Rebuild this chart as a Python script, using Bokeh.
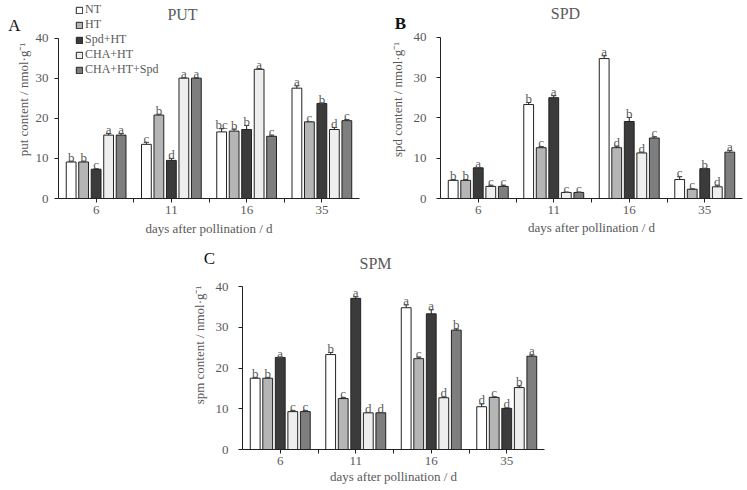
from bokeh.plotting import figure
from bokeh.models import Range1d, FixedTicker, Label, Legend, LegendItem, Whisker, TeeHead, ColumnDataSource, Spacer
from bokeh.layouts import column, row
from bokeh.embed import file_html
from bokeh.resources import INLINE
from bokeh.core.properties import value

days = ["6", "11", "16", "35"]
treatments = ["NT", "HT", "Spd+HT", "CHA+HT", "CHA+HT+Spd"]
colors = ["#ffffff", "#b5b5b5", "#3b3b3b", "#eeeeee", "#7e7e7e"]

# PUT (per treatment, across days 6, 11, 16, 35)
put_nt = [9.1, 13.5, 16.6, 27.5]
put_ht = [9.1, 20.8, 16.8, 19.1]
put_spd = [7.3, 9.5, 17.2, 23.7]
put_cha = [15.8, 30.0, 32.2, 17.2]
put_chaspd = [15.8, 30.0, 15.5, 19.4]
put_err = [[0.2, 0.5, 0.8, 0.6], [0.2, 0.2, 0.5, 0.1], [0.1, 0.5, 1.0, 0.1], [0.4, 0.1, 0.2, 0.5], [0.4, 0.1, 0.3, 0.3]]
put_let = [["b", "c", "bc", "a"], ["b", "b", "b", "c"], ["c", "d", "b", "b"], ["a", "a", "a", "d"], ["a", "a", "c", "c"]]

# SPD
spd_nt = [4.5, 23.3, 34.7, 4.7]
spd_ht = [4.5, 12.6, 12.6, 2.3]
spd_spd = [7.6, 25.0, 19.1, 7.4]
spd_cha = [3.0, 1.5, 11.3, 2.9]
spd_chaspd = [3.0, 1.5, 15.0, 11.5]
spd_err = [[0.2, 0.5, 0.7, 0.7], [0.2, 0.3, 0.4, 0.1], [0.1, 0.5, 1.0, 0.1], [0.3, 0.1, 0.2, 0.4], [0.3, 0.1, 0.3, 0.4]]
spd_let = [["b", "b", "a", "c"], ["b", "c", "d", "c"], ["a", "a", "b", "b"], ["c", "c", "d", "d"], ["c", "c", "c", "a"]]

# SPM
spm_nt = [17.5, 23.3, 34.8, 10.5]
spm_ht = [17.5, 12.5, 22.3, 12.8]
spm_spd = [22.6, 37.1, 33.3, 10.1]
spm_cha = [9.3, 9.0, 12.7, 15.2]
spm_chaspd = [9.3, 9.0, 29.3, 22.9]
spm_err = [[0.2, 0.5, 0.7, 0.7], [0.2, 0.3, 0.4, 0.1], [0.1, 0.4, 1.0, 0.1], [0.3, 0.1, 0.2, 0.4], [0.3, 0.1, 0.3, 0.3]]
spm_let = [["b", "b", "a", "d"], ["b", "c", "c", "c"], ["a", "a", "a", "d"], ["c", "d", "d", "b"], ["c", "d", "b", "a"]]

yticks = [0, 10, 20, 30, 40]

FONT = "Liberation Serif"
GRAY = "#595959"
STEP = 0.166
BW = 0.13


def panel(series, errs, lets, ylabel, title, letter, letter_bold,
          width, height, bl, br, bb, ymax, title_pos, letter_pos,
          xlab_standoff, tick_standoff, ylab_standoff, legend_pos=None):
    day_pos = list(range(1, len(days) + 1))
    p = figure(width=width, height=height, x_range=Range1d(0.5, len(days) + 0.5),
               y_range=Range1d(0, ymax), output_backend="svg", toolbar_location=None,
               min_border_left=bl, min_border_right=br, min_border_top=0, min_border_bottom=bb)
    p.outline_line_color = None
    p.xgrid.visible = False
    p.ygrid.visible = False
    items = []
    for k, (vals, err, let) in enumerate(zip(series, errs, lets)):
        off = (k - 2) * STEP
        xs = [d + off for d in day_pos]
        src = ColumnDataSource(dict(x=xs, top=vals, up=[v + e for v, e in zip(vals, err)],
                                    lo=[v - e for v, e in zip(vals, err)], let=let))
        r = p.vbar(x="x", top="top", width=BW, source=src, fill_color=colors[k],
                   line_color="#222222", line_width=1)
        items.append(LegendItem(label=treatments[k], renderers=[r]))
        p.add_layout(Whisker(source=src, base="x", upper="up", lower="lo", line_color="#222222",
                             line_width=1,
                             upper_head=TeeHead(size=5, line_color="#222222", line_width=1),
                             lower_head=TeeHead(size=5, line_color="#222222", line_width=1)))
        p.text(x="x", y="up", text="let", source=src, text_align="center",
               text_baseline="alphabetic", y_offset=-4, text_font=value(FONT),
               text_font_size="13px", text_color=GRAY)
    xa = p.xaxis[0]
    xa.ticker = FixedTicker(ticks=day_pos, minor_ticks=[d + 0.5 for d in day_pos[:-1]])
    xa.major_label_overrides = {d: lab for d, lab in zip(day_pos, days)}
    xa.major_tick_out = 4
    xa.major_tick_in = 0
    xa.minor_tick_out = 4
    xa.minor_tick_in = 0
    xa.axis_line_color = "#222222"
    xa.major_tick_line_color = "#222222"
    xa.minor_tick_line_color = "#222222"
    xa.major_label_text_font = FONT
    xa.major_label_text_font_size = "13px"
    xa.major_label_text_color = GRAY
    xa.major_label_standoff = 3
    xa.axis_label = "days after pollination / d"
    xa.axis_label_text_font = FONT
    xa.axis_label_text_font_size = "13px"
    xa.axis_label_text_font_style = "normal"
    xa.axis_label_text_color = GRAY
    xa.axis_label_standoff = xlab_standoff

    ya = p.yaxis[0]
    ya.ticker = FixedTicker(ticks=yticks, minor_ticks=[])
    ya.bounds = (yticks[0], yticks[-1])
    ya.major_tick_out = 4
    ya.major_tick_in = 0
    ya.minor_tick_line_color = None
    ya.axis_line_color = "#222222"
    ya.major_tick_line_color = "#222222"
    ya.major_label_text_font = FONT
    ya.major_label_text_font_size = "13px"
    ya.major_label_text_color = GRAY
    ya.major_label_standoff = tick_standoff
    ya.axis_label = ylabel
    ya.axis_label_text_font = FONT
    ya.axis_label_text_font_size = "13px"
    ya.axis_label_text_font_style = "normal"
    ya.axis_label_text_color = GRAY
    ya.axis_label_standoff = ylab_standoff

    p.add_layout(Label(x=title_pos[0], y=title_pos[1], x_units="screen", y_units="screen",
                       text=title, text_font=FONT, text_font_size="16px", text_color=GRAY,
                       text_align="center", text_baseline="middle"))
    p.add_layout(Label(x=letter_pos[0], y=letter_pos[1], x_units="screen", y_units="screen",
                       text=letter, text_font=FONT, text_font_size="17px", text_color="#111111",
                       text_font_style="bold" if letter_bold else "normal",
                       text_align="center", text_baseline="middle"), "left")
    if legend_pos is not None:
        lg = Legend(items=items, location=legend_pos, padding=0, margin=0, spacing=0,
                    label_height=14, glyph_height=8, glyph_width=8, label_standoff=2,
                    label_text_font=FONT, label_text_font_size="12px", label_text_color=GRAY,
                    border_line_color=None, background_fill_alpha=0)
        p.add_layout(lg)
    return p


pA = panel([put_nt, put_ht, put_spd, put_cha, put_chaspd], put_err, put_let,
           "put content / nmol\u00b7g\u207b\u00b9", "PUT", "A", False,
           width=370, height=240, bl=57, br=11, bb=42, ymax=49.35,
           title_pos=(124, 184), letter_pos=(14, 173),
           xlab_standoff=4, tick_standoff=6, ylab_standoff=2, legend_pos=(17, 121))
pB = panel([spd_nt, spd_ht, spd_spd, spd_cha, spd_chaspd], spd_err, spd_let,
           "spd content / nmol\u00b7g\u207b\u00b9", "SPD", "B", True,
           width=377, height=240, bl=70, br=5, bb=40, ymax=49.1,
           title_pos=(125, 185), letter_pos=(25, 175),
           xlab_standoff=3, tick_standoff=10, ylab_standoff=6)
pC = panel([spm_nt, spm_ht, spm_spd, spm_cha, spm_chaspd], spm_err, spm_let,
           "spm content / nmol\u00b7g\u207b\u00b9", "SPM", "C", False,
           width=387, height=250, bl=72, br=13, bb=41, ymax=51.3,
           title_pos=(133, 186), letter_pos=(32, 191),
           xlab_standoff=1, tick_standoff=10, ylab_standoff=6)

layout = column(row(pA, pB), row(Spacer(width=170, height=250), pC))

open("out.html", "w").write(file_html(layout, INLINE))
